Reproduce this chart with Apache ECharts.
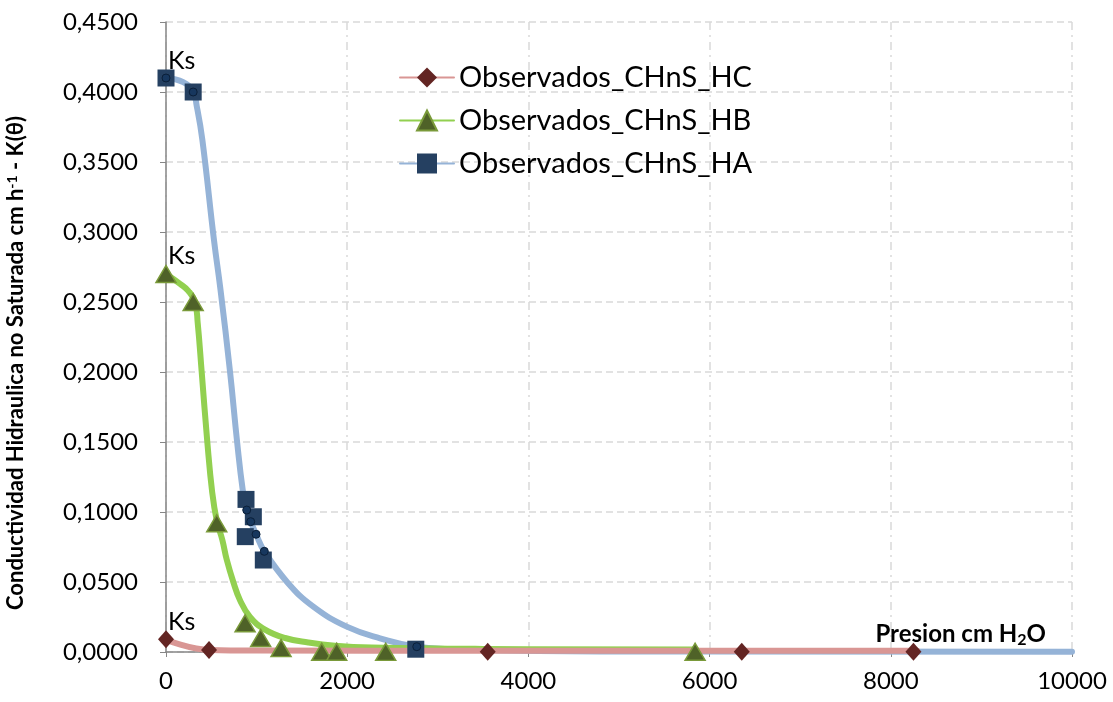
<!DOCTYPE html>
<html>
<head>
<meta charset="utf-8">
<script src="https://cdn.jsdelivr.net/npm/echarts@6/dist/echarts.min.js"></script>
<style>
  html, body { margin: 0; padding: 0; background: #ffffff; }
  #chart { width: 1113px; height: 702px; }
</style>
</head>
<body>
<div id="chart"></div>
<script>
// Series names (legend order)
const seriesNames = ['Observados_CHnS_HC', 'Observados_CHnS_HB', 'Observados_CHnS_HA'];

// Observed points, horizon HC (pressure cm H2O, K cm/h)
const presionHC = [0, 475, 3551, 6355, 8250];
const kHC = [0.0091, 0.0014, 0.0002, 0.0002, 0.0002];

// Observed points, horizon HB
const presionHB = [0, 300, 560, 873, 1045, 1270, 1719, 1884, 2425, 5840];
const kHB = [0.270, 0.250, 0.092, 0.0205, 0.0100, 0.0028, 0.0002, 0.0002, 0.0001, 0.0002];

// Observed points, horizon HA
const presionHA = [0, 300, 883, 964, 875, 1074, 2757];
const kHA = [0.410, 0.400, 0.109, 0.0966, 0.0824, 0.0657, 0.0020];

// Fitted model points marked on the HA curve
const presionHAModelo = [0, 300, 891, 935, 994, 1085, 2768];
const kHAModelo = [0.410, 0.400, 0.1014, 0.0931, 0.0841, 0.0719, 0.0038];

// Fitted conductivity curves
const curvaHC_x = [0, 486, 1000, 3551, 6355, 8290];
const curvaHC_y = [0.0088, 0.0014, 0.0010, 0.0009, 0.0009, 0.0009];

const curvaHB_x = [0, 155, 246, 320, 350, 394, 456, 510, 560, 622, 670, 743, 817, 927, 1093, 1314, 1571, 1866, 2271, 3500, 5850];
const curvaHB_y = [0.270, 0.263, 0.258, 0.250, 0.235, 0.200, 0.150, 0.114, 0.094, 0.080, 0.066, 0.050, 0.037, 0.025, 0.016, 0.010, 0.0068, 0.0045, 0.0032, 0.0022, 0.0018];

const curvaHA_x = [0, 190, 300, 339, 401, 530, 601, 707, 785, 847, 891, 935, 994, 1085, 1350, 1626, 1995, 2363, 2768, 3470, 5000, 10000];
const curvaHA_y = [0.410, 0.407, 0.400, 0.390, 0.366, 0.294, 0.259, 0.200, 0.150, 0.1157, 0.1014, 0.0931, 0.0841, 0.0719, 0.0490, 0.0324, 0.0181, 0.0098, 0.0038, 0.0014, 0.0004, 0.0001];

// Axis ticks
const xMin = 0, xMax = 10000, xStep = 2000;
const yMin = 0, yMax = 0.45, yStep = 0.05;

const FONT = 'Lato, "Open Sans", "DejaVu Sans", sans-serif';

function pairs(xs, ys) {
  return xs.map((x, i) => [x, ys[i]]);
}

// Observed data; the first point of each horizon is the saturated conductivity (Ks)
function observed(xs, ys) {
  return xs.map((x, i) => {
    const item = { value: [x, ys[i]] };
    if (i === 0) {
      item.label = {
        show: true,
        formatter: 'Ks',
        position: 'top',
        align: 'left',
        distance: 0,
        offset: [2, 4],
        color: '#000000',
        fontFamily: FONT,
        fontSize: 25
      };
    }
    return item;
  });
}

const curveStyle = (color, z) => ({
  type: 'line',
  smooth: 0.45,
  showSymbol: false,
  z: z,
  silent: true,
  lineStyle: { color: color, width: 6, cap: 'round', join: 'round' }
});

const option = {
  animation: false,
  backgroundColor: '#ffffff',
  textStyle: { fontFamily: FONT },
  grid: { left: 166, right: 41, top: 22, bottom: 50, containLabel: false, outerBoundsMode: 'none' },
  legend: {
    data: seriesNames,
    orient: 'vertical',
    left: 394,
    top: 58,
    itemWidth: 54,
    itemHeight: 25,
    itemGap: 14,
    textStyle: { fontFamily: FONT, fontSize: 29, color: '#000000' },
    lineStyle: { width: 2 },
    selectedMode: false
  },
  xAxis: {
    type: 'value',
    min: xMin,
    max: xMax,
    interval: xStep,
    name: '{b|Presion cm H}{s|2}{b|O}',
    nameLocation: 'end',
    nameGap: -26,
    nameTextStyle: {
      align: 'right',
      verticalAlign: 'bottom',
      padding: [0, 0, 4, 0],
      rich: {
        b: { fontFamily: FONT, fontSize: 24, fontWeight: 'bold', color: '#000000' },
        s: { fontFamily: FONT, fontSize: 16, fontWeight: 'bold', color: '#000000', verticalAlign: 'bottom', padding: [12, 0, 0, 0] }
      }
    },
    axisLine: { show: true, onZero: false, lineStyle: { color: '#868686', width: 1.5 } },
    axisTick: { show: true, length: 5, lineStyle: { color: '#868686' } },
    axisLabel: { color: '#000000', fontFamily: FONT, fontSize: 24, margin: 17, formatter: (v) => String(v) },
    splitLine: { show: true, lineStyle: { color: '#D9D9D9', width: 1.5, type: [8, 5, 2, 5] } }
  },
  yAxis: {
    type: 'value',
    min: yMin,
    max: yMax,
    interval: yStep,
    name: '{t|Conductividad Hidraulica no Saturada cm h}{sup|-1}{t| - K(θ)}',
    nameLocation: 'middle',
    nameGap: 139,
    nameRotate: 90,
    nameTextStyle: {
      padding: [0, 52, 0, 0],
      rich: {
        t: { fontFamily: FONT, fontSize: 22, fontWeight: 'bold', color: '#000000' },
        sup: { fontFamily: FONT, fontSize: 14, fontWeight: 'bold', color: '#000000', verticalAlign: 'top' }
      }
    },
    axisLine: { show: true, lineStyle: { color: '#868686', width: 1.5 } },
    axisTick: { show: true, length: 6, lineStyle: { color: '#868686' } },
    axisLabel: {
      color: '#000000', fontFamily: FONT, fontSize: 24, margin: 28,
      formatter: (v) => v.toFixed(4).replace('.', ',')
    },
    splitLine: { show: true, lineStyle: { color: '#D9D9D9', width: 1.5, type: [7, 4] } }
  },
  series: [
    // fitted curves (first series per name drives the legend icon)
    Object.assign(curveStyle('#D99694', 2.3), {
      name: seriesNames[0],
      symbol: 'diamond',
      symbolSize: [16, 18],
      itemStyle: { color: '#632523' },
      data: pairs(curvaHC_x, curvaHC_y)
    }),
    Object.assign(curveStyle('#92D050', 2.2), {
      name: seriesNames[1],
      symbol: 'triangle',
      symbolSize: [20, 17],
      itemStyle: { color: '#4F6228', borderColor: '#7A9A3A', borderWidth: 1.5 },
      data: pairs(curvaHB_x, curvaHB_y)
    }),
    Object.assign(curveStyle('#95B3D7', 2.1), {
      name: seriesNames[2],
      symbol: 'rect',
      symbolSize: 17,
      itemStyle: { color: '#254061' },
      data: pairs(curvaHA_x, curvaHA_y)
    }),
    // observed markers
    {
      type: 'scatter', name: seriesNames[0], z: 3, silent: true,
      symbol: 'diamond', symbolSize: [16, 18],
      itemStyle: { color: '#632523', opacity: 1 },
      data: observed(presionHC, kHC)
    },
    {
      type: 'scatter', name: seriesNames[1], z: 3, silent: true,
      symbol: 'triangle', symbolSize: [20, 17],
      itemStyle: { color: '#4F6228', borderColor: '#7A9A3A', borderWidth: 1.5, opacity: 1 },
      data: observed(presionHB, kHB)
    },
    {
      type: 'scatter', name: seriesNames[2], z: 3, silent: true,
      symbol: 'rect', symbolSize: 17,
      itemStyle: { color: '#254061', opacity: 1 },
      data: observed(presionHA, kHA)
    },
    // model points along the HA curve
    {
      type: 'scatter', name: seriesNames[2], z: 4, silent: true,
      symbol: 'circle', symbolSize: 8,
      itemStyle: { color: '#17375E', borderColor: '#0B1F38', borderWidth: 1, opacity: 1 },
      data: pairs(presionHAModelo, kHAModelo)
    }
  ]
};

const chart = echarts.init(document.getElementById('chart'), null, { renderer: 'canvas' });
chart.setOption(option);
</script>
</body>
</html>
